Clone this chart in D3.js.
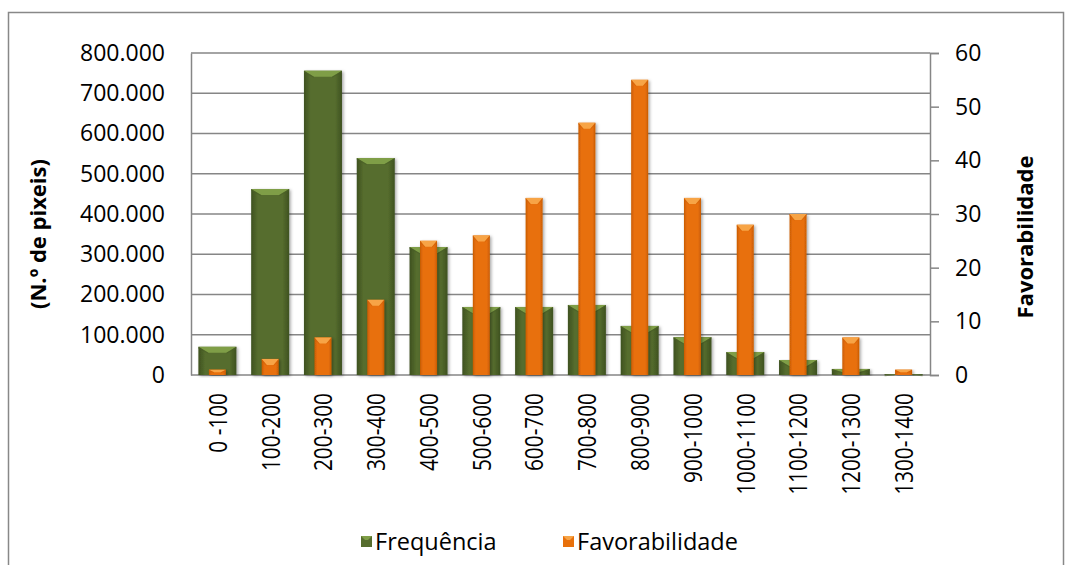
<!DOCTYPE html>
<html><head><meta charset="utf-8">
<script src="https://cdn.jsdelivr.net/npm/d3@7"></script>
<style>html,body{margin:0;padding:0;background:#fff;} svg{display:block;}</style>
</head><body>
<svg id="c" width="1066" height="565"></svg>
<script>
const categories = ["0 -100","100-200","200-300","300-400","400-500","500-600","600-700","700-800","800-900","900-1000","1000-1100","1100-1200","1200-1300","1300-1400"];
const frequencia = [70000,462000,756000,539000,318000,169000,169000,174000,122000,94000,57000,37000,15000,2000];
const favorabilidade = [1,3,7,14,25,26,33,47,55,33,28,30,7,1];
const leftTicks = [0,100000,200000,300000,400000,500000,600000,700000,800000];
const rightTicks = [0,10,20,30,40,50,60];
const seriesNames = ["Frequência","Favorabilidade"];

const svg = d3.select("#c");
const FONT = "'Open Sans', sans-serif";
const m = {l:191, r:930, t:53, b:375};

const defs = svg.append("defs");
function hgrad(id, edge, mid){
  const g = defs.append("linearGradient").attr("id",id).attr("x1","0").attr("x2","1").attr("y1","0").attr("y2","0");
  g.append("stop").attr("offset","0").attr("stop-color",edge);
  g.append("stop").attr("offset","0.18").attr("stop-color",mid);
  g.append("stop").attr("offset","0.82").attr("stop-color",mid);
  g.append("stop").attr("offset","1").attr("stop-color",edge);
}
hgrad("gGreen","#3e5120","#566d2e");
hgrad("gOrange","#c95c04","#e8700b");
const f = defs.append("filter").attr("id","sh").attr("x","-20%").attr("y","-5%").attr("width","150%").attr("height","115%");
f.append("feDropShadow").attr("dx",1.5).attr("dy",1).attr("stdDeviation",1.5).attr("flood-color","#000").attr("flood-opacity",0.35);

// outer border
svg.append("rect").attr("x",8.5).attr("y",12.5).attr("width",1055).attr("height",570)
  .attr("fill","none").attr("stroke","#888").attr("stroke-width",1.5);

const x = d3.scaleBand().domain(categories).range([m.l,m.r]).paddingInner(0).paddingOuter(0);
const yL = d3.scaleLinear().domain([0,800000]).range([m.b,m.t]);
const yR = d3.scaleLinear().domain([0,60]).range([m.b,m.t]);
const loc = d3.formatLocale({decimal:",",thousands:".",grouping:[3],currency:["",""]});
const fmt = loc.format(",");

// gridlines
const grid = svg.append("g");
grid.selectAll("line").data(leftTicks.slice(1)).join("line")
  .attr("x1",m.l).attr("x2",m.r).attr("y1",d=>yL(d)).attr("y2",d=>yL(d))
  .attr("stroke","#868686").attr("stroke-width",1.5);

// left axis
const gL = svg.append("g").attr("transform",`translate(${m.l},0)`)
  .call(d3.axisLeft(yL).tickValues(leftTicks).tickFormat(fmt).tickSize(0).tickPadding(26));
gL.select(".domain").attr("stroke","#868686").attr("stroke-width",1.5);
gL.selectAll("text").attr("font-family",FONT).attr("font-size",23).attr("fill","#000");

// right axis
const gR = svg.append("g").attr("transform",`translate(${m.r},0)`)
  .call(d3.axisRight(yR).tickValues(rightTicks).tickSize(9).tickPadding(16));
gR.select(".domain").attr("stroke","#868686").attr("stroke-width",1.5);
gR.selectAll("line").attr("stroke","#868686").attr("stroke-width",1.5);
gR.selectAll("text").attr("font-family",FONT).attr("font-size",23).attr("fill","#000");

// bottom axis line
svg.append("line").attr("x1",m.l).attr("x2",m.r).attr("y1",m.b).attr("y2",m.b)
  .attr("stroke","#868686").attr("stroke-width",1.5);

function drawBars(data, scale, w, fill, bevel, bevelDark){
  const g = svg.append("g");
  const bars = g.selectAll("g").data(data).join("g")
    .attr("transform",(d,i)=>`translate(${x(categories[i])+x.bandwidth()/2 - w/2},0)`);
  bars.append("rect").attr("x",0).attr("width",w)
    .attr("y",d=>scale(d)).attr("height",d=>Math.max(0,m.b-scale(d)))
    .attr("fill",`url(#${fill})`).attr("filter","url(#sh)");
  bars.append("path").attr("d",d=>{
      const t = scale(d), h = Math.min(6, (m.b-t)/2), s = Math.min(w*0.3, 10);
      return `M0,${t}L${w},${t}L${w-s},${t+h}L${s},${t+h}Z`;
    }).attr("fill",bevel);
  bars.append("path").attr("d",d=>{
      const t = scale(d), h = Math.min(6, (m.b-t)/2), s = Math.min(w*0.3, 10);
      return `M0,${t}L${s},${t+h}L${s},${t+h+1}L0,${t+2}Z M${w},${t}L${w-s},${t+h}L${w-s},${t+h+1}L${w},${t+2}Z`;
    }).attr("fill",bevelDark).attr("opacity",0.6);
}
drawBars(frequencia, yL, 38, "gGreen", "#7f9e47", "#4a5f26");
drawBars(favorabilidade, yR, 17, "gOrange", "#f7a446", "#d06008");

// x labels
svg.append("g").selectAll("text").data(categories).join("text")
  .attr("transform",d=>`translate(${x(d)+x.bandwidth()/2},393) rotate(-90) scale(0.8,1)`)
  .attr("text-anchor","end").attr("dy","0.36em")
  .attr("font-family",FONT).attr("font-size",26).attr("fill","#000").text(d=>d);

// axis titles
svg.append("text").attr("transform",`translate(38,234) rotate(-90)`).attr("text-anchor","middle")
  .attr("dy","0.36em").attr("font-family",FONT).attr("font-weight","bold").attr("font-size",22).text("(N.º de pixeis)");
svg.append("text").attr("transform",`translate(1025,237) rotate(-90)`).attr("text-anchor","middle")
  .attr("dy","0.36em").attr("font-family",FONT).attr("font-weight","bold").attr("font-size",22).text("Favorabilidade");

// legend
const legend = [{n:seriesNames[0], x:361, c:"#566d2e", b:"#7f9e47"},{n:seriesNames[1], x:563, c:"#e8700b", b:"#f7a446"}];
const lg = svg.append("g").selectAll("g").data(legend).join("g").attr("transform",d=>`translate(${d.x},536)`);
lg.append("rect").attr("width",11).attr("height",11).attr("fill",d=>d.c);
lg.append("path").attr("d","M0,0L11,0L7,4L4,4Z").attr("fill",d=>d.b);
lg.append("text").attr("x",14).attr("y",5.5).attr("dy","0.36em").attr("font-family",FONT)
  .attr("font-size",23.5).attr("fill","#000").text(d=>d.n);
</script>
</body></html>
